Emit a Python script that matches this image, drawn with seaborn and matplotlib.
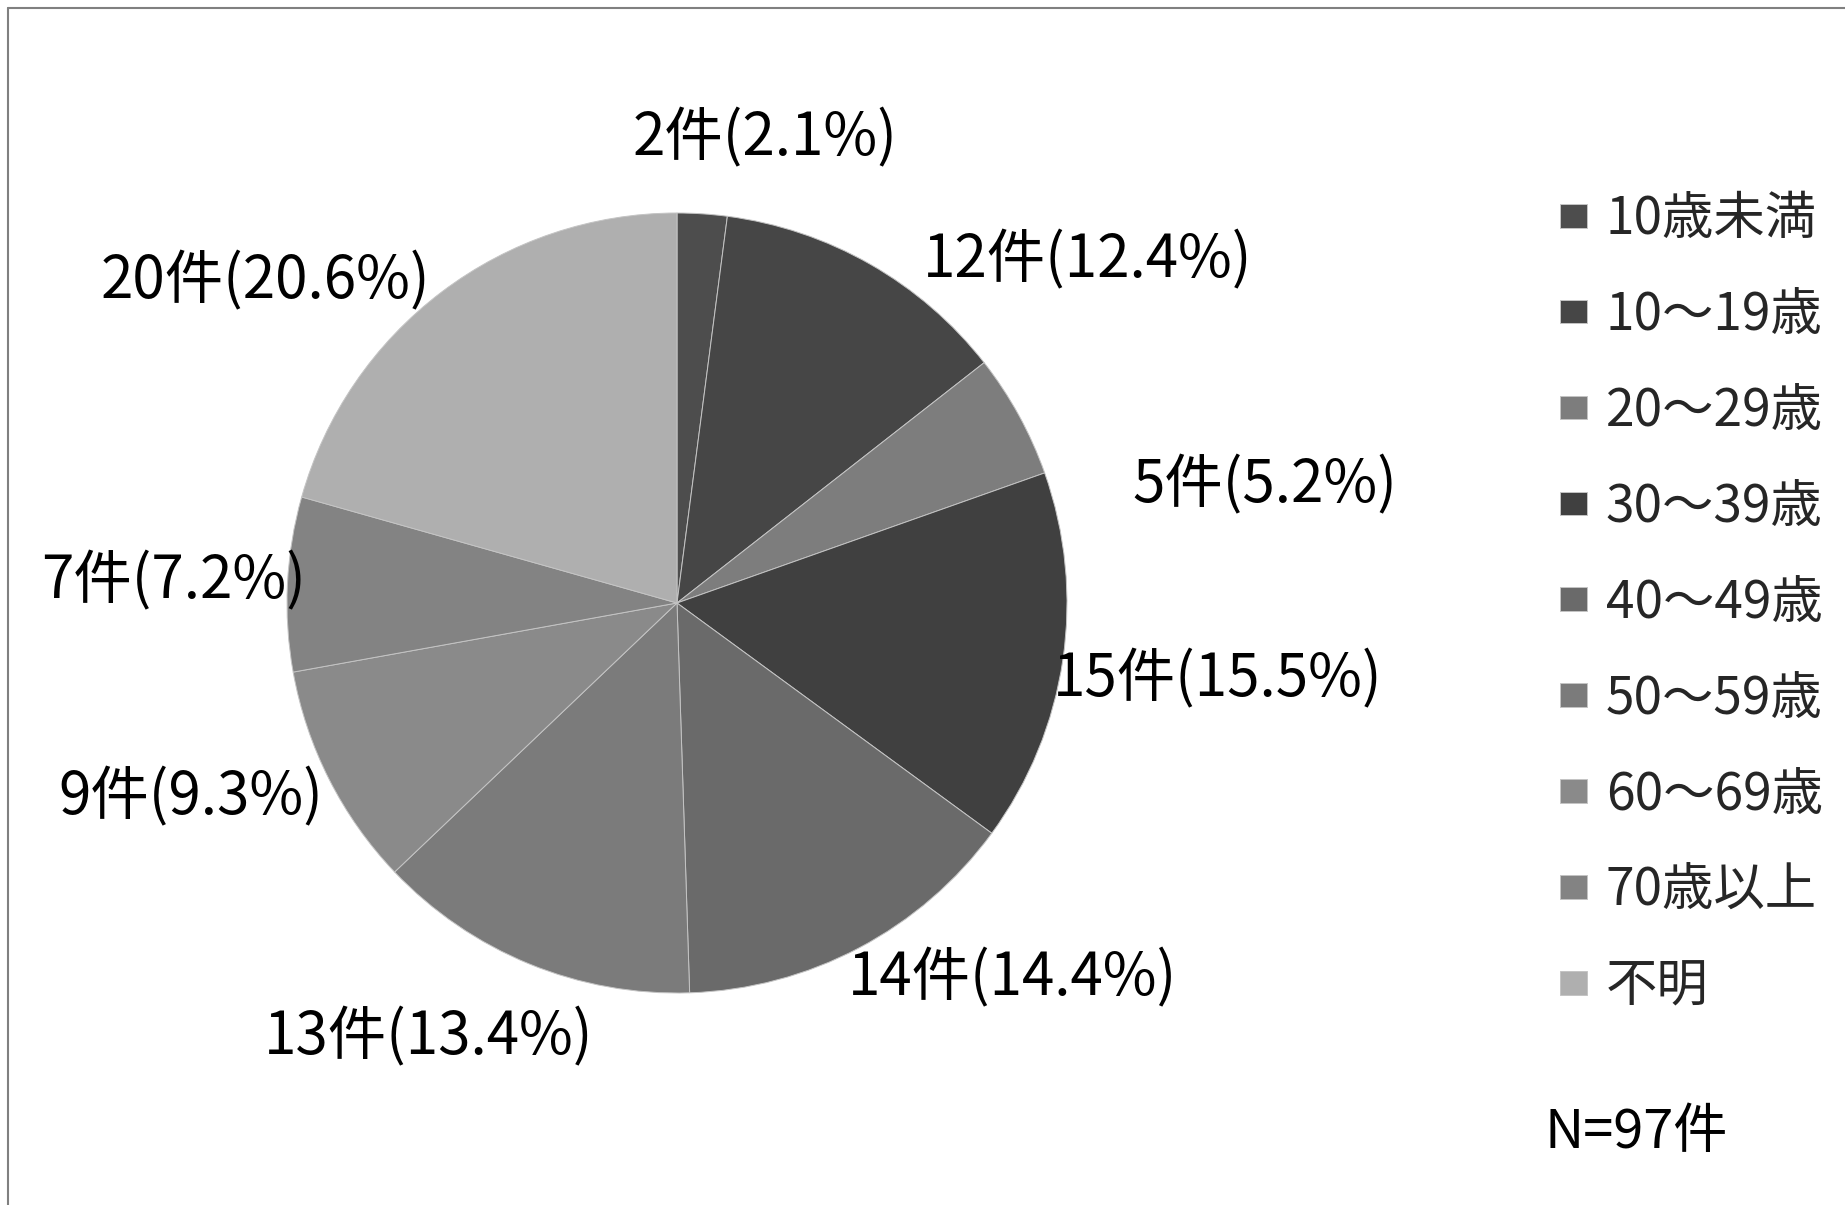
import matplotlib
matplotlib.use("Agg")
import matplotlib.pyplot as plt
from matplotlib.lines import Line2D
import seaborn as sns

sns.set_theme(style="white")
plt.rcParams["font.family"] = ["Noto Sans CJK JP", "DejaVu Sans"]

# 年齢層別の件数
categories = ["10歳未満", "10～19歳", "20～29歳", "30～39歳", "40～49歳",
              "50～59歳", "60～69歳", "70歳以上", "不明"]
counts = [2, 12, 5, 15, 14, 13, 9, 7, 20]
percents = [2.1, 12.4, 5.2, 15.5, 14.4, 13.4, 9.3, 7.2, 20.6]
colors = ["#4d4d4d", "#464646", "#7d7d7d", "#404040", "#6a6a6a",
          "#7b7b7b", "#8a8a8a", "#838383", "#afafaf"]
total_label = "N=97件"

# ラベル配置（円の半径を1とした座標）
label_pos = [(0.226, 1.190), (1.054, 0.877), (1.508, 0.300), (1.387, -0.197),
             (0.859, -0.964), (-0.636, -1.115), (-1.246, -0.500),
             (-1.290, 0.054), (-1.056, 0.823)]

W, H = 1845, 1205
fig = plt.figure(figsize=(W / 100, H / 100), dpi=100)
fig.patch.set_facecolor("white")

cx, cy, r = 677, 603, 390
ax = fig.add_axes([(cx - r) / W, (H - cy - r) / H, 2 * r / W, 2 * r / H])
wedges, _ = ax.pie(counts, colors=colors, startangle=90, counterclock=False,
                   radius=1.0,
                   wedgeprops=dict(edgecolor="#c4c4c4", linewidth=0.7))
ax.set_xlim(-1, 1)
ax.set_ylim(-1, 1)
ax.set_aspect("equal")
ax.axis("off")

for n, p, (x, y) in zip(counts, percents, label_pos):
    ax.text(x, y, f"{n}件({p}%)", ha="center", va="center", fontsize=42,
            color="black", clip_on=False)

fig.legend(wedges, categories, loc="center left",
           bbox_to_anchor=(1560 / W, 1 - 603 / H),
           frameon=False, fontsize=37, handlelength=0.53, handleheight=0.33,
           handletextpad=0.36, labelspacing=0.825, borderpad=0, borderaxespad=0)

fig.text(1545 / W, 1 - 1132 / H, total_label, ha="left", va="center",
         fontsize=39, color="black")

# 外枠（上辺と左辺）
fig.add_artist(Line2D([7.5 / W, 1.0], [1 - 7.5 / H, 1 - 7.5 / H],
                      transform=fig.transFigure, color="#808080", linewidth=1.5))
fig.add_artist(Line2D([7.5 / W, 7.5 / W], [0, 1 - 7.5 / H],
                      transform=fig.transFigure, color="#808080", linewidth=1.5))

fig.savefig("out.png", dpi=100, facecolor="white")
